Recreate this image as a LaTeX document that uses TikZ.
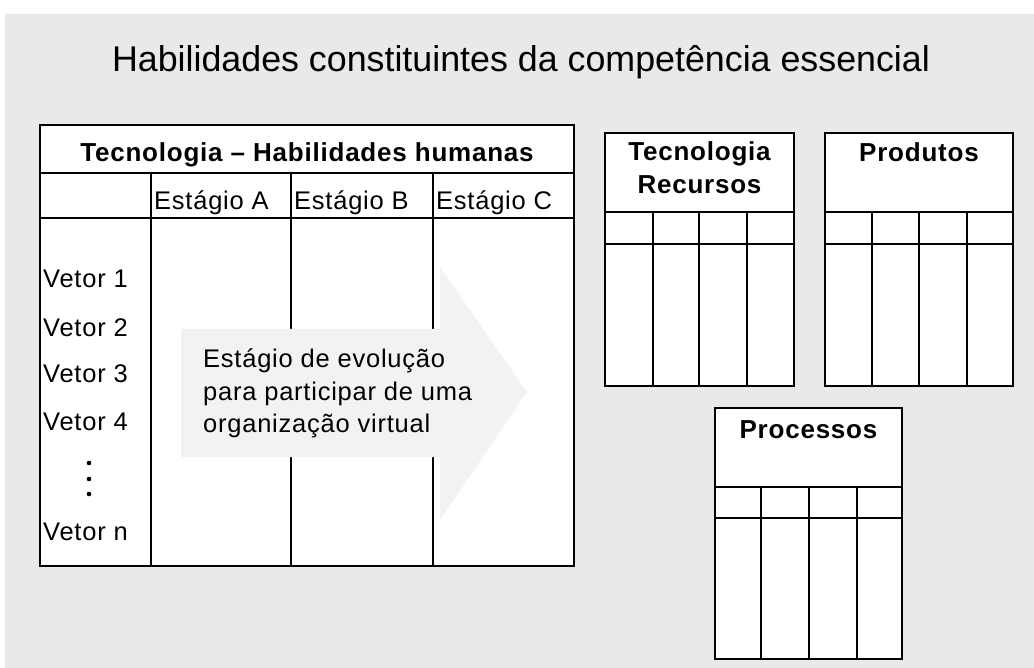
\documentclass[tikz,border=0pt]{standalone}
\usepackage{fontspec}
\setmainfont{Liberation Sans}
\newfontfamily\spfont[LetterSpace=3]{Liberation Sans}
\definecolor{bggray}{HTML}{E9E9E9}
\definecolor{arrowgray}{HTML}{F2F2F2}
\begin{document}
\begin{tikzpicture}[x=1pt,y=-1pt,
  grid/.style={draw=black,line width=1.8pt},
  cellbox/.style={draw=black,line width=1.8pt,fill=white},
  lbl/.style={inner sep=0pt,font=\spfont\fontsize{25.5}{30}\selectfont},
  blbl/.style={inner sep=0pt,font=\spfont\bfseries\fontsize{26}{31}\selectfont},
  ttl/.style={inner sep=0pt,font=\fontsize{35.8}{42}\selectfont}
]
\useasboundingbox (0,0) rectangle (1034,668);
\fill[bggray] (5,14) rectangle (1034,668);

% title
\node[ttl,anchor=base] (title) at (521,72) {Habilidades constituintes da competência essencial};

% main table
\draw[cellbox] (40,125) rectangle (574,566);
\draw[grid] (40,173) -- (574,173);
\draw[grid] (40,218) -- (574,218);
\draw[grid] (151,173) -- (151,566);
\draw[grid] (291,173) -- (291,566);
\draw[grid] (433,173) -- (433,566);

% evolution arrow
\fill[arrowgray] (181,329) -- (440,329) -- (440,267) -- (527,392) -- (440,520) -- (440,457) -- (181,457) -- cycle;

\node[blbl,anchor=base] (mainhead) at (307,162) {Tecnologia – Habilidades humanas};
\node[lbl,anchor=base west] (sa) at (154,210) {Estágio A};
\node[lbl,anchor=base west] (sb) at (294,210) {Estágio B};
\node[lbl,anchor=base west] (sc) at (436,210) {Estágio C};

\node[lbl,anchor=base west] (v1) at (43,288) {Vetor 1};
\node[lbl,anchor=base west] (v2) at (43,337) {Vetor 2};
\node[lbl,anchor=base west] (v3) at (43,383) {Vetor 3};
\node[lbl,anchor=base west] (v4) at (43,430) {Vetor 4};
\node[lbl,anchor=base west] (vn) at (43,540) {Vetor n};
\fill (89,463) circle (2.3pt);
\fill (89,479) circle (2.3pt);
\fill (89,494) circle (2.3pt);

\node[lbl,anchor=base west] (ev1) at (203,368) {Estágio de evolução};
\node[lbl,anchor=base west] (ev2) at (203,400) {para participar de uma};
\node[lbl,anchor=base west] (ev3) at (203,432) {organização virtual};

% Tecnologia Recursos box
\draw[cellbox] (605,133) rectangle (794,386);
\draw[grid] (605,212) -- (794,212);
\draw[grid] (605,244) -- (794,244);
\foreach \cx in {653,699,747} \draw[grid] (\cx,212) -- (\cx,386);
\node[blbl,anchor=base] (tr1) at (699.5,161) {Tecnologia};
\node[blbl,anchor=base] (tr2) at (699.5,194) {Recursos};

% Produtos box
\draw[cellbox] (825,133) rectangle (1013,386);
\draw[grid] (825,212) -- (1013,212);
\draw[grid] (825,244) -- (1013,244);
\foreach \cx in {872,919,967} \draw[grid] (\cx,212) -- (\cx,386);
\node[blbl,anchor=base] (prod) at (919,162) {Produtos};

% Processos box
\draw[cellbox] (715,408) rectangle (902,659);
\draw[grid] (715,487) -- (902,487);
\draw[grid] (715,518) -- (902,518);
\foreach \cx in {761,809,857} \draw[grid] (\cx,487) -- (\cx,659);
\node[blbl,anchor=base] (proc) at (808.5,438) {Processos};
\end{tikzpicture}
\end{document}
